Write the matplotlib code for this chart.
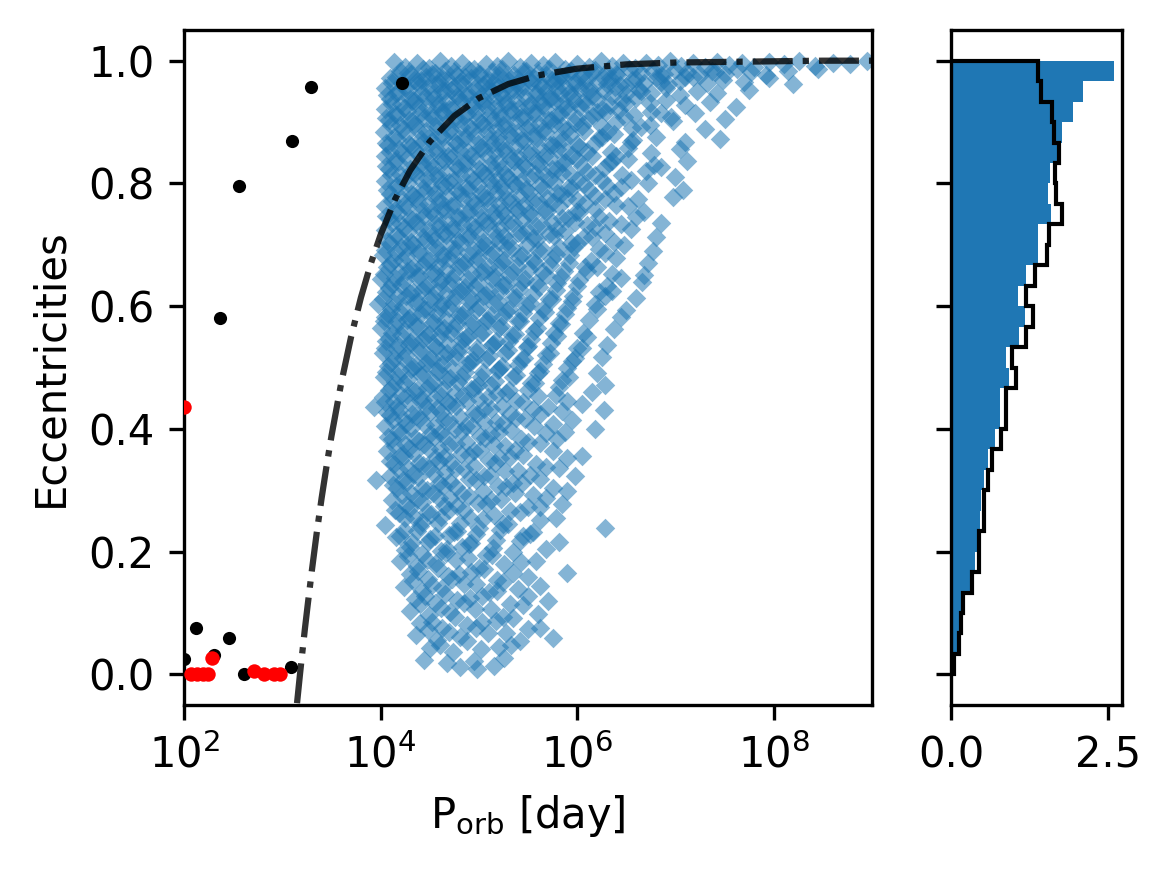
import matplotlib
matplotlib.use('Agg')
import matplotlib.pyplot as plt
import numpy as np

# blue cloud: (log10 P_orb [day], eccentricity)
cloud = [
    # e ~ 0.99-1.0
    (4.14,.998),(4.25,.990),(4.37,.996),(4.49,.988),(4.60,.999),(4.72,.992),(4.83,.997),(4.95,.986),
    (5.07,.995),(5.18,.991),(5.30,.999),(5.42,.989),(5.53,.996),(5.65,.993),(5.77,.998),(5.88,.987),
    (6.00,.995),(6.12,.990),(6.24,.999),(6.35,.992),(6.47,.996),(6.59,.988),(6.70,.997),(6.82,.993),
    (6.94,.999),(7.06,.991),(7.18,.996),(7.30,.989),(7.42,.998),(7.55,.993),(7.68,.997),(7.80,.990),
    (7.95,.998),(8.10,.994),(8.26,.999),(8.42,.992),(8.60,.997),(8.78,.995),(8.95,.999),
    (4.20,.984),(4.31,.978),(4.43,.986),(4.55,.980),(4.66,.983),(4.78,.976),(4.90,.985),(5.01,.979),
    (5.13,.982),(5.24,.987),(5.36,.977),(5.48,.983),(5.60,.980),(5.71,.986),(5.83,.975),(5.94,.984),
    (6.06,.979),(6.18,.985),(6.30,.981),(6.41,.977),(6.53,.986),(6.65,.980),(6.77,.983),(6.88,.978),
    (7.00,.985),(7.12,.981),(7.25,.976),(7.37,.984),(7.50,.979),(7.63,.986),(7.77,.982),(7.92,.977),
    (8.15,.983),(8.45,.986),
    (4.16,.973),(4.28,.980),(4.41,.969),(4.52,.978),(4.63,.971),(4.75,.982),(4.86,.974),(4.99,.979),
    (5.10,.968),(5.21,.977),(5.33,.970),(5.45,.981),(5.56,.972),(5.68,.976),(5.80,.969),(5.91,.980),
    (6.03,.973),(6.15,.982),(6.27,.971),(6.40,.978),(6.60,.970),(6.85,.977),(7.10,.974),(7.40,.981),
    # e ~ 0.95-0.97
    (4.10,.971),(4.22,.963),(4.34,.968),(4.46,.974),(4.57,.962),(4.69,.969),(4.81,.965),(4.92,.972),
    (5.04,.960),(5.16,.967),(5.27,.973),(5.39,.964),(5.50,.970),(5.62,.961),(5.74,.968),(5.85,.973),
    (5.97,.963),(6.09,.969),(6.21,.966),(6.33,.972),(6.44,.960),(6.56,.968),(6.68,.964),(6.80,.971),
    (6.92,.962),(7.05,.967),(7.18,.973),(7.32,.963),(7.48,.969),(7.70,.965),(7.95,.971),(8.20,.962),
    (4.12,.963),(4.25,.956),(4.37,.967),(4.49,.959),(4.60,.964),(4.72,.953),(4.84,.962),(4.96,.955),
    (5.07,.966),(5.19,.957),(5.30,.961),(5.43,.954),(5.54,.965),(5.65,.958),(5.77,.967),(5.89,.956),
    (6.00,.963),(6.12,.955),(6.30,.962),(6.50,.959),(6.85,.966),
    (4.05,.956),(4.16,.948),(4.28,.953),(4.40,.958),(4.52,.946),(4.63,.951),(4.75,.957),(4.87,.944),
    (4.98,.950),(5.10,.955),(5.22,.947),(5.33,.953),(5.45,.958),(5.57,.945),(5.68,.951),(5.80,.956),
    (5.92,.948),(6.03,.954),(6.15,.943),(6.27,.950),(6.39,.957),(6.50,.946),(6.63,.952),(6.75,.948),
    (6.90,.955),(7.05,.944),(7.22,.951),(7.42,.947),(7.75,.953),
    (4.07,.944),(4.18,.949),(4.30,.938),(4.42,.947),(4.54,.940),(4.66,.951),(4.78,.942),(4.89,.946),
    (5.00,.939),(5.12,.950),(5.24,.943),(5.36,.952),(5.47,.941),(5.59,.948),(5.71,.940),(5.83,.947),
    (5.95,.944),(6.12,.951),(6.35,.943),(6.65,.950),
    # e ~ 0.90-0.94
    (4.10,.938),(4.21,.930),(4.33,.936),(4.45,.941),(4.57,.929),(4.68,.934),(4.80,.940),(4.92,.927),
    (5.03,.933),(5.15,.939),(5.27,.931),(5.38,.936),(5.50,.926),(5.62,.932),(5.73,.940),(5.85,.929),
    (5.97,.935),(6.09,.930),(6.20,.938),(6.33,.928),(6.46,.934),(6.60,.940),(6.74,.931),(6.90,.936),
    (7.10,.927),(7.35,.933),(7.62,.925),
    (4.12,.930),(4.24,.923),(4.35,.934),(4.47,.925),(4.59,.929),(4.70,.922),(4.82,.933),(4.94,.926),
    (5.06,.935),(5.17,.924),(5.29,.931),(5.41,.923),(5.53,.930),(5.65,.927),(5.77,.934),(5.90,.926),
    (6.06,.933),(6.25,.922),(6.50,.931),
    (4.04,.921),(4.15,.913),(4.27,.918),(4.38,.924),(4.50,.911),(4.62,.917),(4.73,.922),(4.85,.910),
    (4.97,.916),(5.08,.923),(5.20,.914),(5.32,.919),(5.43,.908),(5.55,.915),(5.67,.921),(5.79,.912),
    (5.91,.918),(6.03,.924),(6.16,.910),(6.29,.916),(6.43,.920),(6.58,.911),(6.75,.917),(6.95,.909),
    (7.20,.914),(7.50,.905),
    (4.06,.907),(4.17,.911),(4.29,.904),(4.41,.915),(4.53,.908),(4.64,.917),(4.76,.906),(4.88,.913),
    (4.99,.905),(5.11,.912),(5.23,.909),(5.35,.916),(5.46,.908),(5.58,.915),(5.70,.904),(5.83,.913),
    (6.00,.906),(6.20,.917),(6.48,.909),(6.85,.914),
    (4.09,.903),(4.20,.896),(4.32,.901),(4.44,.907),(4.55,.894),(4.67,.899),(4.79,.905),(4.90,.892),
    (5.02,.898),(5.14,.904),(5.25,.895),(5.37,.900),(5.49,.891),(5.61,.897),(5.73,.903),(5.85,.893),
    (5.98,.899),(6.11,.905),(6.25,.894),(6.40,.900),(6.56,.890),(6.74,.896),(6.98,.902),(7.30,.888),
    (4.11,.895),(4.23,.888),(4.35,.897),(4.46,.886),(4.58,.893),(4.70,.885),(4.82,.892),(4.93,.889),
    (5.05,.896),(5.17,.888),(5.28,.895),(5.40,.884),(5.52,.893),(5.64,.886),(5.76,.897),(5.90,.889),
    (6.05,.894),(6.30,.883),(6.65,.892),
    # e ~ 0.84-0.88
    (4.03,.884),(4.14,.876),(4.26,.881),(4.38,.887),(4.49,.874),(4.61,.879),(4.73,.885),(4.84,.872),
    (4.96,.878),(5.08,.884),(5.19,.875),(5.31,.880),(5.43,.871),(5.55,.877),(5.67,.883),(5.80,.873),
    (5.93,.879),(6.07,.885),(6.22,.874),(6.38,.880),(6.57,.870),(6.80,.876),(7.10,.868),(7.45,.872),
    (4.06,.866),(4.17,.873),(4.29,.865),(4.41,.872),(4.52,.869),(4.64,.876),(4.76,.868),(4.87,.875),
    (4.99,.864),(5.11,.873),(5.22,.866),(5.34,.877),(5.46,.869),(5.59,.874),(5.72,.863),(5.86,.872),
    (6.00,.865),(6.25,.876),(6.55,.867),
    (4.08,.863),(4.19,.856),(4.31,.861),(4.43,.867),(4.54,.854),(4.66,.859),(4.78,.865),(4.89,.852),
    (5.01,.858),(5.13,.864),(5.25,.855),(5.37,.860),(5.49,.851),(5.62,.857),(5.75,.863),(5.88,.853),
    (6.02,.859),(6.17,.865),(6.34,.852),(6.52,.858),(6.75,.850),(7.05,.856),
    (4.10,.852),(4.22,.849),(4.34,.856),(4.46,.848),(4.57,.855),(4.69,.844),(4.81,.853),(4.92,.846),
    (5.04,.857),(5.16,.849),(5.28,.854),(5.40,.843),(5.53,.852),(5.66,.845),(5.80,.856),(5.95,.847),
    (6.10,.851),(6.40,.844),
    (4.04,.844),(4.15,.836),(4.27,.841),(4.39,.847),(4.50,.834),(4.62,.839),(4.74,.845),(4.85,.832),
    (4.97,.838),(5.09,.844),(5.21,.835),(5.33,.840),(5.45,.831),(5.58,.837),(5.71,.843),(5.85,.833),
    (6.00,.839),(6.15,.845),(6.32,.834),(6.52,.840),(6.78,.830),(7.12,.836),
    (4.06,.828),(4.18,.835),(4.30,.824),(4.42,.833),(4.53,.826),(4.65,.837),(4.77,.829),(4.88,.834),
    (5.00,.823),(5.12,.832),(5.24,.825),(5.36,.836),(5.48,.827),(5.61,.831),(5.74,.824),(5.88,.835),
    (6.05,.828),(6.35,.837),(6.85,.826),
    # e ~ 0.78-0.82
    (4.09,.823),(4.20,.816),(4.32,.821),(4.44,.827),(4.55,.814),(4.67,.819),(4.79,.825),(4.91,.812),
    (5.03,.818),(5.15,.824),(5.27,.815),(5.39,.820),(5.52,.811),(5.65,.817),(5.79,.823),(5.94,.813),
    (6.10,.819),(6.27,.825),(6.46,.814),(6.70,.820),(7.00,.810),
    (4.11,.813),(4.23,.806),(4.35,.817),(4.47,.809),(4.58,.814),(4.70,.803),(4.82,.812),(4.94,.805),
    (5.06,.816),(5.18,.807),(5.30,.811),(5.43,.804),(5.57,.815),(5.71,.808),(5.85,.817),(6.00,.806),
    (6.18,.813),(6.55,.805),
    (4.05,.804),(4.16,.796),(4.28,.801),(4.40,.807),(4.51,.794),(4.63,.799),(4.75,.805),(4.87,.792),
    (4.99,.798),(5.11,.804),(5.23,.795),(5.35,.800),(5.48,.791),(5.62,.797),(5.76,.803),(5.91,.793),
    (6.07,.799),(6.25,.805),(6.45,.794),(6.72,.800),(7.08,.790),
    (4.07,.789),(4.19,.794),(4.31,.783),(4.43,.792),(4.55,.785),(4.66,.796),(4.78,.787),(4.90,.791),
    (5.02,.784),(5.14,.795),(5.26,.788),(5.38,.797),(5.51,.786),(5.65,.793),(5.79,.785),(5.95,.792),
    (6.12,.789),(6.30,.796),
    (4.10,.783),(4.21,.776),(4.33,.781),(4.45,.787),(4.57,.774),(4.69,.779),(4.81,.785),(4.93,.772),
    (5.05,.778),(5.17,.784),(5.29,.775),(5.42,.780),(5.55,.771),(5.69,.777),(5.84,.783),(6.00,.773),
    (6.18,.779),(6.38,.785),(6.62,.774),(6.98,.778),
    (4.12,.772),(4.24,.765),(4.36,.776),(4.48,.767),(4.60,.771),(4.72,.764),(4.84,.775),(4.96,.768),
    (5.08,.777),(5.20,.766),(5.33,.773),(5.46,.765),(5.60,.772),(5.75,.769),(5.90,.776),(6.08,.768),
    (6.28,.775),(6.52,.764),
    # e ~ 0.72-0.76
    (4.04,.764),(4.15,.756),(4.27,.761),(4.39,.767),(4.51,.754),(4.63,.759),(4.75,.765),(4.87,.752),
    (4.99,.758),(5.11,.764),(5.24,.755),(5.37,.760),(5.51,.751),(5.66,.757),(5.82,.763),(5.99,.753),
    (6.18,.759),(6.40,.765),(6.68,.754),
    (4.06,.747),(4.18,.751),(4.30,.744),(4.42,.755),(4.54,.748),(4.66,.757),(4.78,.746),(4.90,.753),
    (5.02,.745),(5.14,.752),(5.27,.749),(5.40,.756),(5.54,.748),(5.69,.755),(5.85,.744),(6.02,.753),
    (6.22,.746),
    (4.09,.743),(4.20,.736),(4.32,.741),(4.44,.747),(4.56,.734),(4.68,.739),(4.80,.745),(4.92,.732),
    (5.04,.738),(5.17,.744),(5.30,.735),(5.44,.740),(5.58,.731),(5.74,.737),(5.91,.743),(6.10,.733),
    (6.32,.739),(6.60,.745),(6.85,.736),
    (4.12,.735),(4.24,.728),(4.36,.737),(4.48,.726),(4.60,.733),(4.72,.725),(4.84,.732),(4.96,.729),
    (5.09,.736),(5.22,.728),(5.35,.735),(5.49,.724),(5.64,.733),(5.80,.726),(5.98,.737),(6.18,.729),
    (6.45,.734),
    (4.05,.724),(4.16,.716),(4.28,.721),(4.40,.727),(4.52,.714),(4.64,.719),(4.76,.725),(4.88,.712),
    (5.00,.718),(5.13,.724),(5.26,.715),(5.40,.720),(5.55,.711),(5.71,.717),(5.88,.723),(6.07,.713),
    (6.28,.719),(6.55,.725),(6.80,.712),
    (4.07,.706),(4.19,.713),(4.31,.705),(4.43,.712),(4.55,.709),(4.67,.716),(4.79,.708),(4.91,.715),
    (5.04,.704),(5.17,.713),(5.30,.706),(5.44,.717),(5.59,.709),(5.76,.714),(5.94,.703),(6.15,.712),
    (6.38,.705),
    # e ~ 0.64-0.70
    (4.10,.703),(4.21,.696),(4.33,.701),(4.45,.707),(4.57,.694),(4.69,.699),(4.81,.705),(4.94,.692),
    (5.07,.698),(5.20,.704),(5.34,.695),(5.49,.700),(5.65,.691),(5.82,.697),(6.00,.703),(6.22,.693),
    (6.48,.699),(6.77,.690),
    (4.04,.692),(4.16,.689),(4.28,.696),(4.40,.688),(4.52,.695),(4.64,.684),(4.76,.693),(4.89,.686),
    (5.02,.697),(5.15,.689),(5.29,.694),(5.44,.683),(5.60,.692),(5.78,.685),(5.97,.696),(6.28,.687),
    (4.02,.684),(4.14,.676),(4.26,.681),(4.38,.687),(4.50,.674),(4.62,.679),(4.74,.685),(4.86,.672),
    (4.99,.678),(5.12,.684),(5.26,.675),(5.41,.680),(5.57,.671),(5.74,.677),(5.93,.683),(6.14,.673),
    (6.40,.679),(6.72,.670),
    (4.10,.668),(4.22,.675),(4.34,.664),(4.46,.673),(4.58,.666),(4.71,.677),(4.84,.669),(4.97,.674),
    (5.10,.663),(5.24,.672),(5.39,.665),(5.55,.676),(5.72,.667),(5.92,.671),(6.20,.664),
    (4.07,.663),(4.19,.656),(4.31,.661),(4.43,.667),(4.55,.654),(4.67,.659),(4.80,.665),(4.93,.652),
    (5.06,.658),(5.20,.664),(5.35,.655),(5.51,.660),(5.68,.651),(5.87,.657),(6.08,.663),(6.35,.653),
    (6.68,.650),
    (4.03,.653),(4.15,.646),(4.27,.657),(4.39,.649),(4.51,.654),(4.63,.643),(4.76,.652),(4.89,.645),
    (5.02,.656),(5.16,.647),(5.31,.651),(5.47,.644),(5.64,.655),(5.84,.648),(6.10,.657),(6.45,.646),
    (4.00,.644),(4.12,.636),(4.24,.641),(4.36,.647),(4.48,.634),(4.60,.639),(4.73,.645),(4.86,.632),
    (4.99,.638),(5.13,.644),(5.28,.635),(5.44,.640),(5.61,.631),(5.80,.637),(6.02,.643),(6.30,.633),
    (6.66,.639),
    (4.09,.629),(4.21,.634),(4.33,.623),(4.45,.632),(4.57,.625),(4.70,.636),(4.83,.627),(4.96,.631),
    (5.10,.624),(5.25,.635),(5.41,.628),(5.58,.637),(5.78,.626),(6.00,.633),(6.35,.625),
    # e ~ 0.56-0.62
    (4.06,.623),(4.18,.616),(4.30,.621),(4.42,.627),(4.54,.614),(4.67,.619),(4.80,.625),(4.93,.612),
    (5.07,.618),(5.22,.624),(5.38,.615),(5.55,.620),(5.74,.611),(5.96,.617),(6.22,.623),(6.60,.613),
    (4.02,.612),(4.14,.605),(4.26,.616),(4.38,.607),(4.50,.611),(4.63,.604),(4.76,.615),(4.90,.608),
    (5.04,.617),(5.19,.606),(5.35,.613),(5.52,.605),(5.71,.612),(5.95,.609),(6.28,.616),
    (3.97,.604),(4.11,.596),(4.23,.601),(4.35,.607),(4.47,.594),(4.60,.599),(4.73,.605),(4.86,.592),
    (5.00,.598),(5.15,.604),(5.31,.595),(5.48,.600),(5.67,.591),(5.90,.597),(6.18,.603),(6.50,.593),
    (4.08,.587),(4.20,.591),(4.32,.584),(4.44,.595),(4.57,.588),(4.70,.597),(4.83,.586),(4.97,.593),
    (5.12,.585),(5.28,.592),(5.45,.589),(5.65,.596),(5.88,.588),(6.20,.595),
    (4.05,.583),(4.17,.576),(4.29,.581),(4.41,.587),(4.54,.574),(4.67,.579),(4.80,.585),(4.94,.572),
    (5.09,.578),(5.25,.584),(5.42,.575),(5.61,.580),(5.84,.571),(6.12,.577),(6.45,.583),
    (4.03,.575),(4.15,.568),(4.27,.577),(4.39,.566),(4.52,.573),(4.65,.565),(4.78,.572),(4.92,.569),
    (5.07,.576),(5.23,.568),(5.40,.575),(5.59,.564),(5.82,.573),
    (4.00,.564),(4.12,.556),(4.24,.561),(4.36,.567),(4.49,.554),(4.62,.559),(4.75,.565),(4.89,.552),
    (5.04,.558),(5.20,.564),(5.37,.555),(5.56,.560),(5.79,.551),(6.06,.557),(6.37,.563),
    (4.09,.546),(4.21,.553),(4.33,.545),(4.46,.552),(4.59,.549),(4.72,.556),(4.86,.548),(5.01,.555),
    (5.17,.544),(5.34,.553),(5.53,.546),(5.76,.557),(6.10,.549),
    # e ~ 0.46-0.54
    (4.06,.543),(4.18,.536),(4.30,.541),(4.43,.547),(4.56,.534),(4.69,.539),(4.83,.545),(4.98,.532),
    (5.14,.538),(5.31,.544),(5.50,.535),(5.73,.540),(6.00,.531),(6.30,.537),
    (4.05,.532),(4.17,.529),(4.29,.536),(4.42,.528),(4.55,.535),(4.68,.524),(4.82,.533),(4.97,.526),
    (5.13,.537),(5.30,.529),(5.49,.534),(5.72,.523),(6.05,.532),
    (4.02,.524),(4.14,.516),(4.26,.521),(4.39,.527),(4.52,.514),(4.65,.519),(4.79,.525),(4.94,.512),
    (5.10,.518),(5.27,.524),(5.46,.515),(5.68,.520),(5.95,.511),(6.25,.517),
    (4.11,.508),(4.23,.515),(4.36,.504),(4.49,.513),(4.62,.506),(4.76,.517),(4.91,.509),(5.07,.514),
    (5.24,.503),(5.43,.512),(5.65,.505),(5.98,.516),
    (4.08,.503),(4.20,.496),(4.33,.501),(4.46,.507),(4.59,.494),(4.73,.499),(4.88,.505),(5.04,.492),
    (5.21,.498),(5.40,.504),(5.62,.495),(5.90,.500),(6.20,.491),
    (4.06,.493),(4.18,.486),(4.31,.497),(4.44,.489),(4.57,.494),(4.71,.483),(4.86,.492),(5.02,.485),
    (5.19,.496),(5.38,.487),(5.60,.491),(5.92,.484),
    (4.03,.484),(4.15,.476),(4.28,.481),(4.41,.487),(4.54,.474),(4.68,.479),(4.83,.485),(4.99,.472),
    (5.16,.478),(5.35,.484),(5.57,.475),(5.85,.480),(6.28,.471),
    (4.12,.469),(4.24,.474),(4.37,.463),(4.50,.472),(4.64,.465),(4.79,.476),(4.95,.467),(5.12,.471),
    (5.31,.464),(5.53,.475),(5.82,.468),
    (4.09,.463),(4.21,.456),(4.34,.461),(4.47,.467),(4.61,.454),(4.76,.459),(4.92,.465),(5.09,.452),
    (5.28,.458),(5.50,.464),(5.78,.455),(6.15,.460),
    # e ~ 0.36-0.44
    (4.02,.452),(4.14,.445),(4.27,.456),(4.40,.447),(4.54,.451),(4.69,.444),(4.84,.455),(5.00,.448),
    (5.18,.457),(5.38,.446),(5.60,.453),(5.90,.445),
    (3.93,.436),(4.05,.444),(4.17,.437),(4.30,.442),(4.43,.447),(4.57,.434),(4.72,.439),(4.88,.445),
    (5.05,.432),(5.24,.438),(5.45,.444),(5.70,.435),(6.05,.440),(6.27,.431),
    (4.07,.427),(4.19,.431),(4.32,.424),(4.46,.435),(4.61,.428),(4.77,.437),(4.94,.426),(5.12,.433),
    (5.32,.425),(5.55,.432),(5.85,.429),
    (4.10,.423),(4.23,.416),(4.36,.421),(4.50,.427),(4.65,.414),(4.81,.419),(4.98,.425),(5.17,.412),
    (5.38,.418),(5.62,.424),(5.95,.415),
    (4.13,.415),(4.26,.408),(4.40,.417),(4.55,.406),(4.70,.413),(4.87,.405),(5.05,.412),(5.25,.409),
    (5.47,.416),(5.75,.408),
    (4.05,.404),(4.18,.396),(4.31,.401),(4.45,.407),(4.60,.394),(4.76,.399),(4.93,.405),(5.12,.392),
    (5.33,.398),(5.56,.404),(5.88,.395),(6.18,.400),
    (4.08,.386),(4.21,.393),(4.35,.385),(4.50,.392),(4.66,.389),(4.83,.396),(5.01,.388),(5.21,.395),
    (5.43,.384),(5.68,.393),
    (4.12,.383),(4.25,.376),(4.39,.381),(4.54,.387),(4.70,.374),(4.87,.379),(5.06,.385),(5.27,.372),
    (5.50,.378),(5.80,.384),
    (4.15,.372),(4.29,.369),(4.44,.376),(4.60,.368),(4.77,.375),(4.95,.364),(5.15,.373),(5.37,.366),
    (5.62,.377),
    (4.07,.364),(4.20,.356),(4.34,.361),(4.49,.367),(4.65,.354),(4.82,.359),(5.01,.365),(5.22,.352),
    (5.45,.358),(5.75,.364),(6.05,.355),
    # e ~ 0.24-0.34
    (4.10,.348),(4.24,.355),(4.39,.344),(4.55,.353),(4.72,.346),(4.90,.357),(5.10,.349),(5.32,.354),
    (5.58,.343),(5.90,.352),
    (4.14,.343),(4.28,.336),(4.43,.341),(4.59,.347),(4.76,.334),(4.95,.339),(5.16,.345),(5.40,.332),
    (5.68,.338),
    (4.19,.333),(4.33,.326),(4.49,.337),(4.66,.329),(4.85,.334),(5.05,.323),(5.27,.332),(5.52,.325),
    (5.82,.336),
    (3.95,.316),(4.10,.324),(4.23,.317),(4.38,.322),(4.54,.327),(4.71,.314),(4.90,.319),(5.11,.325),
    (5.35,.312),(5.62,.318),(5.98,.324),
    (4.13,.309),(4.27,.314),(4.42,.303),(4.59,.312),(4.77,.305),(4.97,.316),(5.19,.307),(5.44,.311),
    (5.75,.304),
    (4.17,.303),(4.31,.296),(4.47,.301),(4.64,.307),(4.83,.294),(5.04,.299),(5.28,.305),(5.55,.292),
    (5.90,.298),
    (4.22,.292),(4.37,.285),(4.53,.296),(4.71,.287),(4.90,.291),(5.12,.284),(5.37,.295),(5.68,.288),
    (4.12,.284),(4.26,.276),(4.42,.281),(4.59,.287),(4.78,.274),(4.99,.279),(5.23,.285),(5.50,.272),
    (5.85,.278),
    (4.15,.267),(4.30,.271),(4.47,.264),(4.65,.275),(4.85,.268),(5.07,.277),(5.32,.266),(5.62,.273),
    (4.19,.263),(4.34,.256),(4.51,.261),(4.70,.267),(4.91,.254),(5.15,.259),(5.42,.265),(5.78,.255),
    (4.25,.255),(4.42,.248),(4.61,.257),(4.81,.246),(5.04,.253),(5.30,.245),(5.62,.252),
    (4.05,.244),(4.24,.236),(4.40,.241),(4.58,.247),(4.78,.234),(5.00,.239),(5.25,.245),(5.55,.232),
    (6.28,.238),
    # e ~ 0.12-0.22
    (4.20,.226),(4.37,.233),(4.55,.225),(4.75,.232),(4.97,.229),(5.22,.236),(5.52,.228),
    (4.16,.223),(4.32,.216),(4.50,.221),(4.70,.227),(4.92,.214),(5.17,.219),(5.45,.225),(5.82,.215),
    (4.30,.208),(4.48,.215),(4.68,.204),(4.90,.213),(5.14,.206),(5.42,.217),
    (4.25,.203),(4.42,.196),(4.61,.201),(4.83,.207),(5.07,.194),(5.35,.199),(5.68,.205),
    (4.28,.193),(4.47,.186),(4.67,.197),(4.89,.189),(5.13,.194),(5.43,.183),
    (4.20,.184),(4.37,.176),(4.56,.181),(4.77,.187),(5.00,.174),(5.26,.179),(5.58,.185),
    (4.38,.169),(4.58,.174),(4.80,.163),(5.05,.172),(5.35,.165),
    (4.30,.163),(4.48,.156),(4.69,.161),(4.92,.167),(5.18,.154),(5.50,.159),(5.90,.165),
    (4.33,.152),(4.52,.145),(4.73,.156),(4.97,.147),(5.25,.151),(5.62,.144),
    (4.24,.143),(4.42,.136),(4.62,.141),(4.85,.147),(5.10,.134),(5.40,.139),
    (4.45,.127),(4.66,.131),(4.91,.124),(5.18,.135),(5.50,.128),
    (4.35,.123),(4.55,.116),(4.78,.121),(5.03,.127),(5.32,.114),(5.70,.119),
    # e < 0.12
    (4.40,.115),(4.61,.108),(4.85,.117),(5.12,.106),(5.45,.113),
    (4.30,.104),(4.49,.096),(4.71,.101),(4.96,.107),(5.25,.094),(5.60,.099),
    (4.52,.086),(4.76,.093),(5.03,.085),(5.35,.092),
    (4.40,.083),(4.62,.076),(4.88,.081),(5.17,.087),(5.50,.074),
    (4.48,.072),(4.70,.069),(4.97,.076),(5.28,.068),(5.62,.075),
    (4.36,.064),(4.57,.056),(4.81,.061),(5.09,.067),(5.42,.054),(5.75,.059),
    (4.60,.048),(4.88,.055),(5.20,.044),
    (4.50,.043),(4.74,.036),(5.02,.041),(5.33,.047),
    (4.44,.024),(4.68,.018),(4.95,.022),(5.26,.027),
    (4.81,.012),(4.98,.009),(5.15,.014),
]

# observed systems
black_logp = [2.005, 2.119, 2.308, 2.461, 2.61, 3.088, 2.363, 2.556, 3.098, 3.295, 4.215]
black_e    = [0.025, 0.075, 0.031, 0.059, 0.0, 0.012, 0.580, 0.795, 0.869, 0.957, 0.964]
red_logp = [1.995, 2.288, 2.07, 2.13, 2.19, 2.24, 2.712, 2.817, 2.919, 2.977]
red_e    = [0.436, 0.027, 0.0, 0.0, 0.0, 0.0, 0.006, 0.001, 0.001, 0.001]

# dash-dot envelope
env_logp = [3.15, 3.18, 3.20, 3.23, 3.26, 3.30, 3.35, 3.40, 3.45, 3.50, 3.60, 3.70, 3.80, 3.90,
            4.00, 4.15, 4.30, 4.50, 4.75, 5.00, 5.30, 5.60, 6.00, 6.50, 7.00, 7.50, 8.00, 8.50, 9.00]
env_e = [-0.047, 0.0, 0.03, 0.074, 0.115, 0.168, 0.23, 0.287, 0.339, 0.388, 0.475, 0.55, 0.614, 0.669,
         0.716, 0.775, 0.821, 0.868, 0.910, 0.939, 0.962, 0.976, 0.987, 0.994, 0.997, 0.998, 0.999, 1.0, 1.0]

# side histograms (density per bin, 30 bins on [0, 1])
hist_edges = np.linspace(0, 1, 31)
hist_blue = [0.03, 0.10, 0.13, 0.18, 0.32, 0.38, 0.43, 0.47, 0.48, 0.52,
             0.59, 0.71, 0.79, 0.79, 0.92, 0.88, 1.08, 1.18, 1.07, 1.19,
             1.39, 1.39, 1.59, 1.55, 1.58, 1.71, 1.78, 1.94, 2.10, 2.60]
hist_black = [0.04, 0.12, 0.16, 0.19, 0.34, 0.44, 0.45, 0.53, 0.53, 0.59,
              0.66, 0.80, 0.88, 0.88, 1.03, 0.98, 1.20, 1.31, 1.20, 1.34,
              1.54, 1.56, 1.77, 1.68, 1.66, 1.73, 1.64, 1.62, 1.44, 1.39]

W, H = 1170, 870
fig = plt.figure(figsize=(W / 300, H / 300), dpi=300)
ax = fig.add_axes([184 / W, 165 / H, 688 / W, 675 / H])
ax2 = fig.add_axes([951 / W, 165 / H, 171 / W, 675 / H], sharey=ax)

cl = np.array(cloud)
ax.scatter(10 ** cl[:, 0], cl[:, 1], marker='D', s=11, color='C0', alpha=0.55, linewidths=0, zorder=2)
ax.plot(10 ** np.array(env_logp), env_e, '-.', color='k', alpha=0.8, lw=1.5, zorder=3)
ax.scatter(10 ** np.array(black_logp), black_e, s=10, color='k', linewidths=0, zorder=4)
ax.scatter(10 ** np.array(red_logp), red_e, s=12, color='red', linewidths=0, zorder=5)

ax.set_xscale('log')
ax.set_xlim(1e2, 1e9)
ax.set_ylim(-0.05, 1.05)
ax.set_xticks([1e2, 1e4, 1e6, 1e8])
ax.minorticks_off()
ax.set_yticks([0, 0.2, 0.4, 0.6, 0.8, 1.0])
ax.set_xlabel(r'P$_{\rm orb}$ [day]')
ax.set_ylabel('Eccentricities')

ax2.barh(hist_edges[:-1], hist_blue, height=hist_edges[1] - hist_edges[0], align='edge',
         color='C0', linewidth=0)
ax2.stairs(hist_black, hist_edges, orientation='horizontal', color='k', lw=1)
ax2.set_xticks([0, 2.5])
ax2.set_xlim(0, 2.73)
ax2.tick_params(labelleft=False)

fig.savefig('out.png', dpi=300)
